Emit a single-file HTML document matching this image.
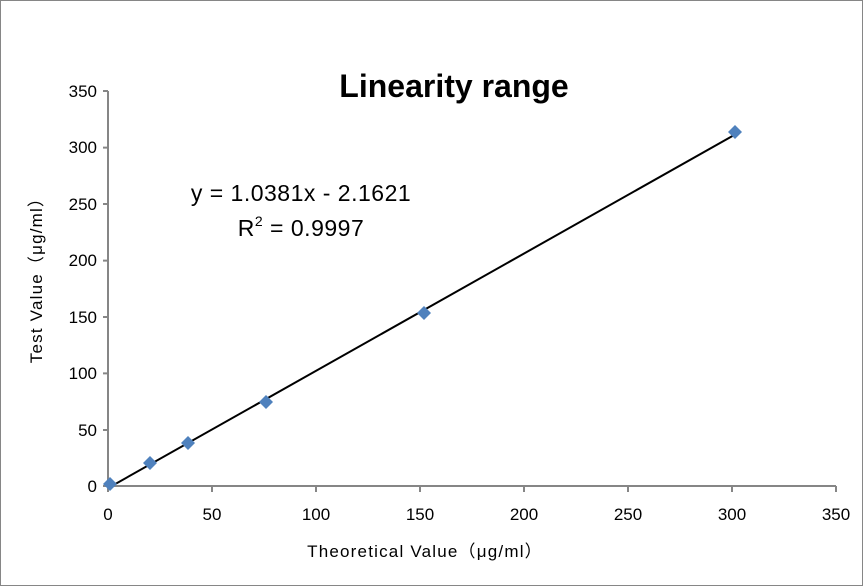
<!DOCTYPE html>
<html><head><style>
body{margin:0;background:#fff}
svg{display:block;font-family:"Liberation Sans","Noto Sans CJK SC",sans-serif}
</style></head><body>
<svg width="863" height="586" viewBox="0 0 863 586" xmlns="http://www.w3.org/2000/svg">
<rect x="0.5" y="0.5" width="862" height="585" fill="#fff" stroke="#868686"/>
<g stroke="#868686" stroke-width="2" fill="none">
<line x1="108" y1="91" x2="108" y2="487"/>
<line x1="107" y1="486" x2="836" y2="486"/>
<path d="M103 91H108M103 147.6H108M103 204H108M103 260.6H108M103 317H108M103 373.4H108M103 430H108M103 486H108"/>
<path d="M108 486V492M212 486V492M316 486V492M420 486V492M524 486V492M628 486V492M732 486V492M836 486V492"/>
</g>
<g font-size="17" fill="#000" text-anchor="end">
<text x="97" y="97">350</text><text x="97" y="153">300</text><text x="97" y="210">250</text><text x="97" y="266">200</text><text x="97" y="323">150</text><text x="97" y="379">100</text><text x="97" y="436">50</text><text x="97" y="492">0</text>
</g>
<g font-size="17" fill="#000" text-anchor="middle">
<text x="108" y="520">0</text><text x="212" y="520">50</text><text x="316" y="520">100</text><text x="420" y="520">150</text><text x="524" y="520">200</text><text x="628" y="520">250</text><text x="732" y="520">300</text><text x="836" y="520">350</text>
</g>
<text x="425" y="557" font-size="17" letter-spacing="1.2" text-anchor="middle">Theoretical Value（μg/ml）</text>
<text transform="translate(42,276) rotate(-90)" font-size="17" letter-spacing="1.2" text-anchor="middle">Test  Value（μg/ml）</text>
<text x="454" y="97" font-size="32" font-weight="bold" text-anchor="middle">Linearity range</text>
<text x="301" y="201" font-size="23" letter-spacing="0.5" text-anchor="middle">y = 1.0381x - 2.1621</text>
<text x="301" y="236" font-size="23" letter-spacing="0.5" text-anchor="middle">R<tspan font-size="14" dy="-10">2</tspan><tspan dy="10"> = 0.9997</tspan></text>
<line x1="110" y1="487" x2="736" y2="134" stroke="#000" stroke-width="2"/>
<g fill="#4f81bd">
<path d="M110 477l7 7-7 7-7-7z"/>
<path d="M150 456l7 7-7 7-7-7z"/>
<path d="M188 436l7 7-7 7-7-7z"/>
<path d="M266 395l7 7-7 7-7-7z"/>
<path d="M424 306l7 7-7 7-7-7z"/>
<path d="M735 125l7 7-7 7-7-7z"/>
</g>
</svg>
</body></html>
